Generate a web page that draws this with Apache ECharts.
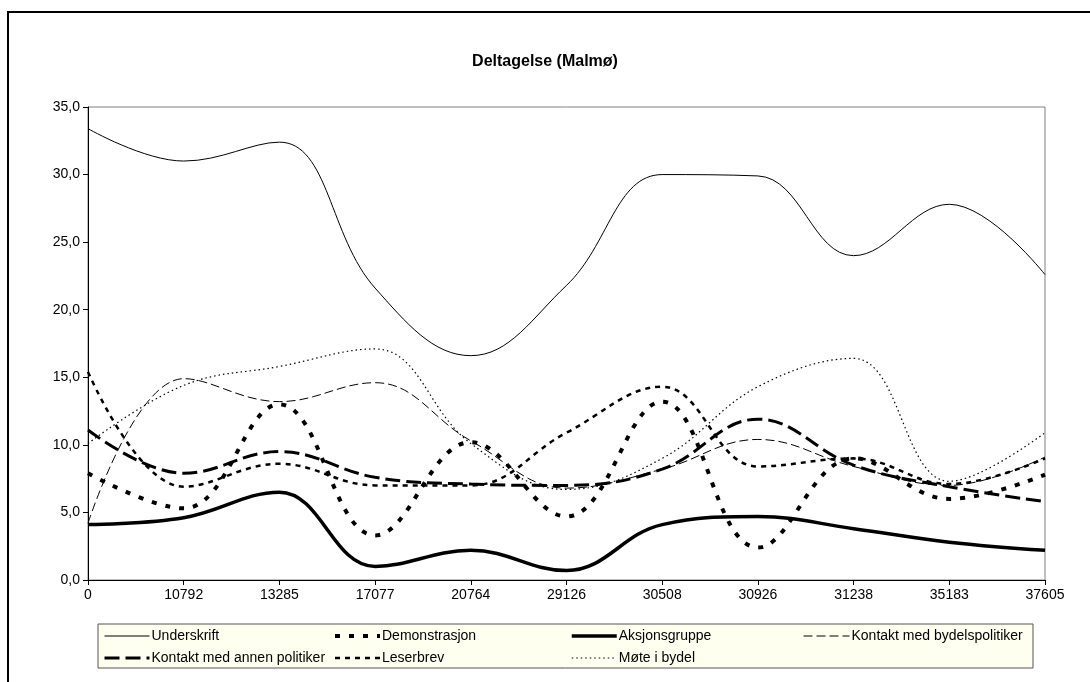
<!DOCTYPE html>
<html>
<head>
<meta charset="utf-8">
<script src="https://cdn.jsdelivr.net/npm/echarts@6/dist/echarts.min.js"></script>
<style>
html,body{margin:0;padding:0;background:#fff;}
#chart{width:1090px;height:682px;}
</style>
</head>
<body>
<div id="chart"></div>
<script>
var categories = ['0','10792','13285','17077','20764','29126','30508','30926','31238','35183','37605'];
var underskrift     = [33.4, 31.0, 32.4, 21.6, 16.6, 21.8, 30.0, 29.9, 24.0, 27.8, 22.6];
var demonstrasjon   = [7.9, 5.3, 13.0, 3.3, 10.2, 4.7, 13.2, 2.4, 9.0, 6.0, 7.8];
var aksjonsgruppe   = [4.1, 4.6, 6.5, 1.0, 2.2, 0.7, 4.1, 4.7, 3.8, 2.8, 2.2];
var bydelspolitiker = [4.2, 14.9, 13.2, 14.6, 10.3, 6.8, 8.2, 10.4, 8.4, 7.0, 9.1];
var annenPolitiker  = [11.1, 7.9, 9.5, 7.6, 7.1, 7.0, 8.2, 11.9, 8.5, 6.9, 5.8];
var leserbrev       = [15.4, 6.9, 8.6, 7.0, 7.0, 10.9, 14.3, 8.4, 9.0, 7.1, 9.0];
var moteIBydel      = [10.1, 14.4, 15.8, 17.1, 10.1, 6.7, 9.0, 14.3, 16.4, 7.3, 10.9];

var FONT = '"Liberation Sans", Arial, sans-serif';
var SM = 0.4;

function line(name, data, width, dash) {
  return {
    name: name, type: 'line', data: data, smooth: SM, symbol: 'none',
    lineStyle: { color: '#000', width: width, type: dash || 'solid', cap: 'butt' },
    itemStyle: { color: '#000' },
    emphasis: { disabled: true },
    animation: false
  };
}

function legendCol(names, left, w) {
  return {
    orient: 'vertical', left: left, top: 629, itemWidth: w, itemHeight: 14, itemGap: 8,
    data: names, selectedMode: false,
    itemStyle: { opacity: 0 },
    lineStyle: { width: 'inherit', type: 'inherit' },
    textStyle: { fontFamily: FONT, fontSize: 14, color: '#000', padding: [0,0,0,-3] },
    padding: 0
  };
}

var chart = echarts.init(document.getElementById('chart'), null, { renderer: 'canvas' });
chart.setOption({
  animation: false,
  backgroundColor: '#fff',
  title: {
    text: 'Deltagelse (Malmø)', left: 'center', top: 49,
    textStyle: { fontFamily: FONT, fontSize: 16, fontWeight: 'bold', color: '#000' }
  },
  graphic: [
    { type: 'rect', z: -10, shape: { x: 8, y: 12, width: 1100, height: 700 },
      style: { fill: null, stroke: '#000', lineWidth: 2 } },
    { type: 'rect', z: 0, shape: { x: 98, y: 624, width: 935, height: 44 },
      style: { fill: '#FFFFF0', stroke: '#555', lineWidth: 1 } }
  ],
  grid: { left: 88, right: 45, top: 107, bottom: 102, show: true, borderColor: '#808080', borderWidth: 1, backgroundColor: '#fff' },
  xAxis: {
    type: 'category', data: categories, boundaryGap: false,
    axisLine: { lineStyle: { color: '#000', width: 1 } },
    axisTick: { show: true, length: 5, inside: false, lineStyle: { color: '#000' } },
    axisLabel: { fontFamily: FONT, fontSize: 14, color: '#000', margin: 8 },
    splitLine: { show: false }
  },
  yAxis: {
    type: 'value', min: 0, max: 35, interval: 5,
    axisLine: { show: true, lineStyle: { color: '#000', width: 1 } },
    axisTick: { show: true, length: 5, lineStyle: { color: '#000' } },
    axisLabel: { fontFamily: FONT, fontSize: 14, color: '#000', margin: 8,
      formatter: function (v) { return v.toFixed(1).replace('.', ','); } },
    splitLine: { show: false }
  },
  legend: [
    legendCol(['Underskrift', 'Kontakt med annen politiker'], 103, 45),
    legendCol(['Demonstrasjon', 'Leserbrev'], 333, 45),
    legendCol(['Aksjonsgruppe', 'Møte i bydel'], 570, 45),
    legendCol(['Kontakt med bydelspolitiker'], 803, 46)
  ],
  series: [
    line('Underskrift', underskrift, 1),
    line('Demonstrasjon', demonstrasjon, 4, [5, 9]),
    line('Aksjonsgruppe', aksjonsgruppe, 3.5),
    line('Kontakt med bydelspolitiker', bydelspolitiker, 1, [9, 4]),
    line('Kontakt med annen politiker', annenPolitiker, 3, [15, 6]),
    line('Leserbrev', leserbrev, 2.5, [5, 5]),
    line('Møte i bydel', moteIBydel, 1.2, [1.5, 3])
  ]
});
</script>
</body>
</html>
